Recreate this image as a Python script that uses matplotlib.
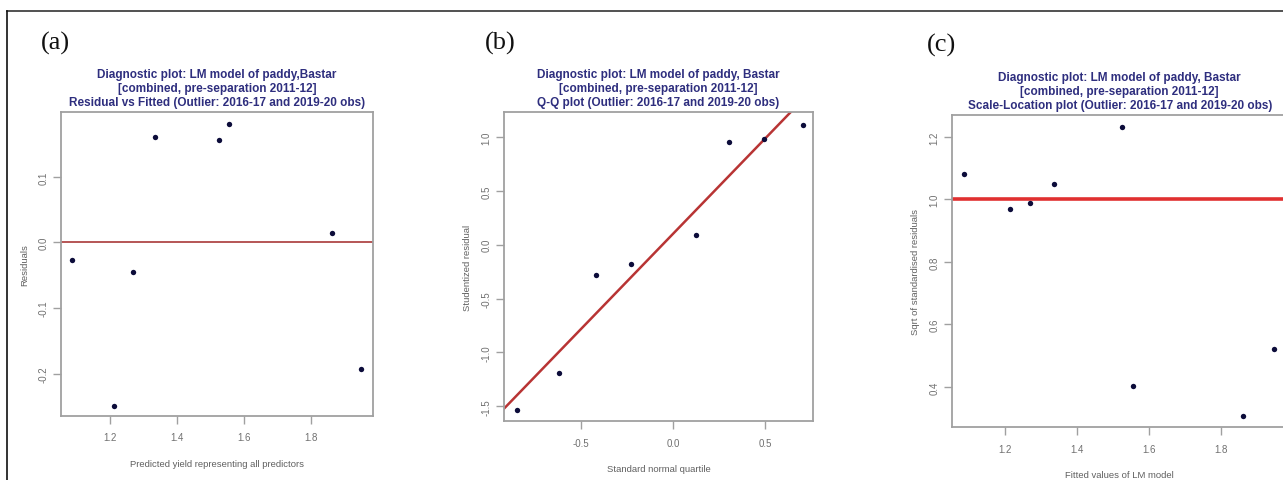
import matplotlib
matplotlib.use("Agg")
import matplotlib.pyplot as plt
from matplotlib.lines import Line2D

# values
fitted = [1.086, 1.213, 1.270, 1.335, 1.526, 1.556, 1.862, 1.948]
residuals = [-0.0275, -0.250, -0.045, 0.161, 0.156, 0.180, 0.0148, -0.193]

theoretical_q = [-0.848, -0.616, -0.418, -0.229, 0.127, 0.307, 0.493, 0.707]
studentized = [-1.537, -1.190, -0.278, -0.176, 0.086, 0.951, 0.983, 1.107]
qq_intercept, qq_slope = 0.10, 1.77

sqrt_std_resid = [1.080, 0.970, 0.989, 1.049, 1.231, 0.402, 0.308, 0.520]

titles = [
    "Diagnostic plot: LM model of paddy,Bastar\n[combined, pre-separation 2011-12]\n"
    "Residual vs Fitted (Outlier: 2016-17 and 2019-20 obs)",
    "Diagnostic plot: LM model of paddy, Bastar\n[combined, pre-separation 2011-12]\n"
    "Q-Q plot (Outlier: 2016-17 and 2019-20 obs)",
    "Diagnostic plot: LM model of paddy, Bastar\n[combined, pre-separation 2011-12]\n"
    "Scale-Location plot (Outlier: 2016-17 and 2019-20 obs)",
]
xlabels = ["Predicted yield representing all predictors", "Standard normal quartile",
           "Fitted values of LM model"]
ylabels = ["Residuals", "Studentized residual", "Sqrt of standardised residuals"]
panel_tags = ["(a)", "(b)", "(c)"]

W, H = 1283, 481
fig = plt.figure(figsize=(W / 100, H / 100), dpi=100)
plt.rcParams['font.family'] = ['Liberation Sans', 'DejaVu Sans']
plt.rcParams['axes.unicode_minus'] = False


def px_axes(left, top, right, bottom):
    return fig.add_axes([left / W, 1 - bottom / H, (right - left) / W, (bottom - top) / H])


def style(ax, title, xlabel, ylabel):
    for s in ax.spines.values():
        s.set_color("#a0a0a0")
        s.set_linewidth(1.3)
    ax.tick_params(colors="#a0a0a0", labelcolor="#707070", labelsize=7, length=6, width=1)
    ax.tick_params(axis="x", pad=6)
    ax.tick_params(axis="y", pad=3)
    for lab in ax.get_yticklabels():
        lab.set_rotation(90)
        lab.set_va("center")
    ax.set_title(title, fontsize=8.5, fontweight="bold", color="#2e2e7e", pad=5, linespacing=1.2)
    ax.set_xlabel(xlabel, fontsize=6.8, color="#606060", labelpad=12)
    ax.set_ylabel(ylabel, fontsize=6.8, color="#606060", labelpad=7)


dot = dict(s=15, color="#0c0c3a", zorder=3, linewidths=0)

# (a) residual vs fitted
ax1 = px_axes(61, 113, 373, 416.5)
ax1.scatter(fitted, residuals, **dot)
ax1.axhline(0, color="#b04848", lw=1.3)
ax1.set_xlim(1.054, 1.985)
ax1.set_ylim(-0.264, 0.199)
ax1.set_xticks([1.2, 1.4, 1.6, 1.8])
ax1.set_yticks([-0.2, -0.1, 0.0, 0.1])
ax1.set_yticklabels(["-0.2", "-0.1", "0.0", "0.1"])
style(ax1, titles[0], xlabels[0], ylabels[0])

# (b) Q-Q plot
ax2 = px_axes(504, 113, 813, 422)
ax2.scatter(theoretical_q, studentized, **dot)
ax2.axline((0, qq_intercept), slope=qq_slope, color="#b83434", lw=1.8)
ax2.set_xlim(-0.916, 0.760)
ax2.set_ylim(-1.636, 1.232)
ax2.set_xticks([-0.5, 0.0, 0.5])
ax2.set_yticks([-1.5, -1.0, -0.5, 0.0, 0.5, 1.0])
style(ax2, titles[1], xlabels[1], ylabels[1])

# (c) scale-location, cut off at the right edge
ax3 = px_axes(952, 116, 1287.5, 428)
ax3.scatter(fitted, sqrt_std_resid, **dot)
ax3.axhline(1.0, color="#e03030", lw=2.6)
ax3.set_xlim(1.053, 1.985)
ax3.set_ylim(0.272, 1.27)
ax3.set_xticks([1.2, 1.4, 1.6, 1.8])
ax3.set_yticks([0.4, 0.6, 0.8, 1.0, 1.2])
style(ax3, titles[2], xlabels[2], ylabels[2])

for tag, (x, y) in zip(panel_tags, [(55, 43), (500, 43), (941, 45)]):
    fig.text(x / W, 1 - y / H, tag, fontsize=19, family="Liberation Serif",
             ha="center", va="center", color="#111111")

# frame lines of the figure
fig.add_artist(Line2D([7 / W, 1], [1 - 11.5 / H] * 2, color="#333333", lw=1.2))
fig.add_artist(Line2D([7 / W] * 2, [0, 1 - 11.5 / H], color="#111111", lw=1.2))

fig.savefig("out.png", dpi=100)
